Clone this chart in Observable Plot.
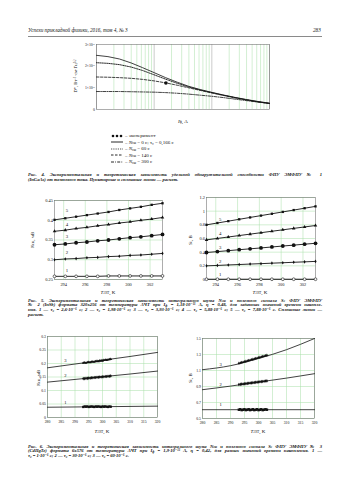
<!DOCTYPE html>
<html><head><meta charset="utf-8">
<script src="https://cdn.jsdelivr.net/npm/d3@7"></script>
<script src="https://cdn.jsdelivr.net/npm/@observablehq/plot@0.6"></script>
<style>
body{margin:0;background:#fff;}
#page{position:relative;width:350px;height:495px;overflow:hidden;background:#fff;font-family:"Liberation Serif","DejaVu Serif",serif;color:#111;}
.abs{position:absolute;white-space:nowrap;}
.cap{position:absolute;left:28px;width:294px;font-style:italic;font-weight:bold;font-size:4.6px;line-height:4.8px;}
.cap div{text-align:justify;text-align-last:justify;white-space:nowrap;height:4.8px;}
.cap div.last{text-align-last:left;}
sub{font-size:65%;vertical-align:baseline;position:relative;top:0.15em;line-height:0;}
sup{font-size:65%;vertical-align:baseline;position:relative;top:-0.35em;line-height:0;}
</style></head><body><div id="page"></div>
<script>
const page = document.getElementById("page");
const FONT = "Liberation Serif";

// ---------- Fig. 4 data ----------
const I_f   = [1e-13,1.58e-13,2.51e-13,3.98e-13,6.31e-13,1e-12,1.58e-12,2.51e-12,3.98e-12,6.31e-12,1e-11,1.58e-11,2.51e-11,3.98e-11,6.31e-11,1e-10];
const D_N0   = [2.50,2.44,2.33,2.15,1.93,1.70,1.47,1.26,1.07,0.92,0.79,0.67,0.56,0.46,0.37,0.29];
const D_N60  = [2.16,2.13,2.07,1.96,1.80,1.60,1.40,1.21,1.04,0.90,0.78,0.66,0.55,0.45,0.36,0.28];
const D_N140 = [1.50,1.49,1.47,1.44,1.39,1.32,1.23,1.12,1.00,0.88,0.76,0.65,0.54,0.44,0.35,0.28];
const D_N300 = [0.83,0.83,0.83,0.82,0.81,0.80,0.78,0.75,0.71,0.66,0.61,0.55,0.48,0.41,0.34,0.28];
const expI = [1.6e-12], expD = [1.22];
const xTicks1 = [1e-13,1e-12,1e-11,1e-10];
const xTickLabels1 = ["1×10⁻¹³","1×10⁻¹²","1×10⁻¹¹","1×10⁻¹⁰"];
const yTicks1 = [0,1,2,3];
const yTickLabels1 = ["0","1×10¹¹","2×10¹¹","3×10¹¹"];

// ---------- Fig. 5 data ----------
const T5 = [293.15,294.15,295.15,296.15,297.15,298.15,299.15,300.15,301.15,302.15,303.15];
const xTicks5 = [294,296,298,300,302];
const N1 = [0.258,0.258,0.258,0.258,0.258,0.259,0.259,0.259,0.259,0.259,0.259];
const N2 = [0.300,0.302,0.303,0.305,0.306,0.308,0.309,0.311,0.312,0.314,0.316];
const N3 = [0.338,0.340,0.343,0.345,0.348,0.350,0.353,0.356,0.358,0.361,0.364];
const N4 = [0.372,0.375,0.379,0.382,0.386,0.389,0.393,0.396,0.400,0.403,0.407];
const N5 = [0.401,0.405,0.409,0.413,0.417,0.421,0.426,0.430,0.434,0.439,0.443];
const yTicksN5 = [0.25,0.3,0.35,0.4,0.45];
const S1 = [0.004,0.004,0.004,0.004,0.004,0.004,0.004,0.004,0.004,0.004,0.004];
const S2 = [0.200,0.206,0.213,0.219,0.226,0.232,0.239,0.245,0.252,0.258,0.265];
const S3 = [0.395,0.408,0.422,0.436,0.449,0.462,0.476,0.490,0.503,0.517,0.530];
const S4 = [0.580,0.601,0.622,0.643,0.664,0.685,0.706,0.727,0.748,0.769,0.790];
const S5 = [0.800,0.827,0.854,0.881,0.908,0.935,0.962,0.989,1.016,1.043,1.070];
const yTicksS5 = [0,0.2,0.4,0.6,0.8,1,1.2];
const curveNames5 = ["1","2","3","4","5"];
const labN_x = [294.3,294.3,294.3,294.3,294.3];
const labN_y = [0.272,0.319,0.358,0.389,0.424];
const labS_x = [294.4,294.4,294.4,294.4,294.4];
const labS_y = [0.07,0.27,0.47,0.67,0.875];

// ---------- Fig. 6 data ----------
const T6line = [280,290,300,310,320];
const NL1 = [0.038,0.039,0.040,0.041,0.042];
const NL2 = [0.131,0.141,0.151,0.161,0.172];
const NL3 = [0.184,0.198,0.212,0.226,0.241];
const SL1 = [0.61,0.61,0.61,0.61,0.61];
const SL2 = [0.86,0.905,0.955,1.005,1.06];
const SL3 = [1.11,1.16,1.25,1.36,1.50];
const T6 = [293,293.5,294,294.5,295,295.5,296,296.5,297,297.5,298,298.5,299,299.5,300,300.5,301,301.5,302,302.5,303];
const NM1 = [0.039,0.041,0.040,0.041,0.039,0.040,0.041,0.040,0.039,0.041,0.040,0.041,0.040,0.039,0.041,0.040,0.041,0.040,0.039,0.041,0.040];
const NM2 = [0.144,0.144,0.145,0.145,0.146,0.146,0.147,0.147,0.148,0.148,0.149,0.149,0.150,0.150,0.151,0.151,0.152,0.152,0.153,0.153,0.154];
const NM3 = [0.202,0.203,0.202,0.204,0.205,0.204,0.206,0.207,0.206,0.208,0.209,0.208,0.210,0.211,0.210,0.212,0.213,0.212,0.214,0.215,0.216];
const SM1 = [0.61,0.615,0.605,0.61,0.615,0.605,0.61,0.615,0.605,0.61,0.615,0.605,0.61,0.615,0.605,0.61,0.615,0.605,0.61,0.615,0.61];
const SM2 = [0.925,0.927,0.930,0.932,0.934,0.936,0.939,0.941,0.943,0.945,0.948,0.950,0.952,0.954,0.957,0.959,0.961,0.963,0.966,0.968,0.970];
const SM3 = [1.190,1.195,1.200,1.205,1.210,1.215,1.220,1.225,1.230,1.235,1.240,1.245,1.250,1.255,1.260,1.265,1.270,1.275,1.280,1.285,1.290];
const xTicks6 = [280,285,290,295,300,305,310,315,320];
const yTicksN6 = [0,0.05,0.1,0.15,0.2,0.25,0.3];
const yTicksS6 = [0.5,0.7,0.9,1.1,1.3,1.5];
const curveNames6 = ["1","2","3"];
const lab6N_x = [286.5,286.5,286.5], lab6N_y = [0.055,0.155,0.21];
const lab6S_x = [286.5,286.5,286.5], lab6S_y = [0.67,0.93,1.18];

// ---------- helpers ----------
const GREEN = "#a6dea6";
function panel(fr, m, x, y, marks){
  const svg = Plot.plot({
    width: m.l + (fr.R-fr.L) + m.r,
    height: m.t + (fr.B-fr.T) + m.b,
    marginLeft:m.l, marginRight:m.r, marginTop:m.t, marginBottom:m.b,
    style:{fontFamily:FONT, fontSize:"4.4px", color:"#111", background:"transparent", overflow:"visible"},
    x, y, marks
  });
  svg.style.position="absolute"; svg.style.left=(fr.L-m.l)+"px"; svg.style.top=(fr.T-m.t)+"px";
  page.appendChild(svg);
}
function html(h, x, y, css){
  const d=document.createElement("div"); d.className="abs"; d.innerHTML=h;
  d.style.left=x+"px"; d.style.top=y+"px"; if(css) d.style.cssText+=css; page.appendChild(d); return d;
}
function vlabel(h, cx, cy, fs){
  return html(h, cx, cy, `transform:translate(-50%,-50%) rotate(-90deg);font-size:${fs||5}px;line-height:${(fs||5)*1.1}px;`);
}
function hlabel(h, cx, cy, fs){
  return html(h, cx, cy, `transform:translate(-50%,-50%);font-size:${fs||5}px;line-height:${(fs||5)*1.1}px;`);
}
const idx = a => ({length:a.length});

// ---------- header ----------
html("Успехи прикладной физики, 2016, том 4, № 3", 28, 27, "font-style:italic;font-size:5.2px;line-height:6px;");
html("283", 313, 27, "font-style:italic;font-size:5.2px;line-height:6px;");
html("", 28, 36, "width:294px;height:0;border-top:0.7px solid #8a8a8a;");

// ---------- Fig. 4 chart ----------
{
  const minor = [];
  for (const dec of [1e-13,1e-12,1e-11]) for (let k=2;k<=9;k++) minor.push(k*dec);
  panel({L:96,R:269,T:44,B:109},{l:40,r:8,t:6,b:12},
    {type:"log", domain:[1e-13,1e-10]},
    {domain:[0,3]},
    [
      Plot.ruleX(minor,{stroke:GREEN,strokeWidth:0.5}),
      Plot.ruleX(xTicks1,{stroke:"#aaa",strokeWidth:0.6}),
      Plot.frame({stroke:"#777",strokeWidth:0.6}),
      Plot.axisX({ticks:xTicks1, tickFormat:(d,i)=>xTickLabels1[i], tickSize:0, tickPadding:3.5, label:null, fontSize:3.8}),
      Plot.axisY({ticks:yTicks1, tickFormat:(d,i)=>yTickLabels1[i], tickSize:0, tickPadding:1.5, label:null, fontSize:3.8}),
      Plot.line(idx(I_f),{x:I_f,y:D_N300,stroke:"#111",strokeWidth:0.8,strokeDasharray:"3,1.2,0.8,1.2"}),
      Plot.line(idx(I_f),{x:I_f,y:D_N140,stroke:"#111",strokeWidth:0.8,strokeDasharray:"2.5,1.5"}),
      Plot.line(idx(I_f),{x:I_f,y:D_N60,stroke:"#111",strokeWidth:0.9,strokeDasharray:"0.8,1"}),
      Plot.line(idx(I_f),{x:I_f,y:D_N0,stroke:"#111",strokeWidth:0.8}),
      Plot.dot(idx(expI),{x:expI,y:expD,r:1.8,fill:"#111"})
    ]);
  vlabel("D*, Вт<sup>−1</sup>·см·Гц<sup>1/2</sup>", 76, 76, 4.6);
  hlabel("<i>I</i><sub>ф</sub>, A", 183, 122, 5);
  // legend
  const items = [
    {k:"dots", t:"– эксперимент"},
    {k:"", t:"– <i>N</i><sub>сш</sub> = 0 с; τ₀ = 0,166 с"},
    {k:"0.8,1", t:"– <i>N</i><sub>сш</sub> = 60 с"},
    {k:"2.5,1.5", t:"– <i>N</i><sub>сш</sub> = 140 с"},
    {k:"3,1.2,0.8,1.2", t:"– <i>N</i><sub>сш</sub> = 300 с"}
  ];
  items.forEach((it,i)=>{
    const y = 133 + i*6.6;
    let sw;
    if (it.k==="dots") sw = `<svg width="12" height="4" style="display:block"><circle cx="2" cy="2" r="1.3" fill="#111"/><circle cx="6" cy="2" r="1.3" fill="#111"/><circle cx="10" cy="2" r="1.3" fill="#111"/></svg>`;
    else sw = `<svg width="12" height="4" style="display:block"><line x1="0" x2="12" y1="2" y2="2" stroke="#111" stroke-width="0.9" ${it.k?`stroke-dasharray="${it.k}"`:""}/></svg>`;
    html(sw, 111, y + 0.6, "font-size:0;line-height:0;");
    html(it.t, 125, y, "font-size:5px;line-height:5.2px;");
  });
}

// Fig. 4 caption
html(`<div class="cap" style="top:173px"><div>Рис. 4. Экспериментальная и теоретическая зависимость удельной обнаружительной способности ФПУ ЭМФПУ № 1</div><div class="last">(InGaAs) от темнового тока. Пунктирные и сплошные линии — расчет.</div></div>`,0,0,"");

// ---------- Fig. 5 left (N) ----------
panel({L:54,R:162,T:200,B:279},{l:16,r:4,t:4,b:10},
  {domain:[293.15,303.15]},
  {domain:[0.25,0.45]},
  [
    Plot.ruleX(xTicks5,{stroke:GREEN,strokeWidth:0.5}),
    Plot.ruleY(yTicksN5,{stroke:GREEN,strokeWidth:0.5}),
    Plot.frame({stroke:"#777",strokeWidth:0.6}),
    Plot.axisX({ticks:xTicks5, tickFormat:d=>String(d), tickSize:0, tickPadding:3, label:null}),
    Plot.axisY({ticks:yTicksN5, tickFormat:d=>String(d), tickSize:0, tickPadding:1.5, label:null}),
    Plot.line(idx(T5),{x:T5,y:N1,stroke:"#111",strokeWidth:0.9}),
    Plot.line(idx(T5),{x:T5,y:N2,stroke:"#111",strokeWidth:0.9}),
    Plot.line(idx(T5),{x:T5,y:N3,stroke:"#111",strokeWidth:0.9}),
    Plot.line(idx(T5),{x:T5,y:N4,stroke:"#111",strokeWidth:0.9}),
    Plot.line(idx(T5),{x:T5,y:N5,stroke:"#111",strokeWidth:0.9}),
    Plot.dot(idx(T5),{x:T5,y:N1,r:1.4,stroke:"#111",strokeWidth:0.6,fill:"white"}),
    Plot.dot(idx(T5),{x:T5,y:N2,r:1.1,symbol:"diamond",fill:"#111"}),
    Plot.dot(idx(T5),{x:T5,y:N3,r:1.9,fill:"#111"}),
    Plot.dot(idx(T5),{x:T5,y:N4,r:1.3,symbol:"triangle",fill:"#111"}),
    Plot.dot(idx(T5),{x:T5,y:N5,r:1.3,symbol:"square",fill:"#111"}),
    Plot.text(curveNames5,{x:labN_x,y:labN_y,text:d=>d,fontSize:4.8})
  ]);
vlabel("<i>N</i><sub>сш</sub>, мВ", 33, 240, 5);
hlabel("<i>T</i><sub>АЧТ</sub>, K", 108, 293, 5);

// ---------- Fig. 5 right (S) ----------
panel({L:206,R:315,T:197,B:279},{l:16,r:4,t:4,b:10},
  {domain:[293.15,303.15]},
  {domain:[0,1.2]},
  [
    Plot.ruleX(xTicks5,{stroke:GREEN,strokeWidth:0.5}),
    Plot.ruleY(yTicksS5,{stroke:GREEN,strokeWidth:0.5}),
    Plot.frame({stroke:"#777",strokeWidth:0.6}),
    Plot.axisX({ticks:xTicks5, tickFormat:d=>String(d), tickSize:0, tickPadding:3, label:null}),
    Plot.axisY({ticks:yTicksS5, tickFormat:d=>String(d), tickSize:0, tickPadding:1.5, label:null}),
    Plot.line(idx(T5),{x:T5,y:S1,stroke:"#111",strokeWidth:0.9}),
    Plot.line(idx(T5),{x:T5,y:S2,stroke:"#111",strokeWidth:0.9}),
    Plot.line(idx(T5),{x:T5,y:S3,stroke:"#111",strokeWidth:0.9}),
    Plot.line(idx(T5),{x:T5,y:S4,stroke:"#111",strokeWidth:0.9}),
    Plot.line(idx(T5),{x:T5,y:S5,stroke:"#111",strokeWidth:0.9}),
    Plot.dot(idx(T5),{x:T5,y:S1,r:1.4,stroke:"#111",strokeWidth:0.6,fill:"white"}),
    Plot.dot(idx(T5),{x:T5,y:S2,r:1.1,symbol:"diamond",fill:"#111"}),
    Plot.dot(idx(T5),{x:T5,y:S3,r:1.9,fill:"#111"}),
    Plot.dot(idx(T5),{x:T5,y:S4,r:1.3,symbol:"triangle",fill:"#111"}),
    Plot.dot(idx(T5),{x:T5,y:S5,r:1.3,symbol:"square",fill:"#111"}),
    Plot.text(curveNames5,{x:labS_x,y:labS_y,text:d=>d,fontSize:4.8})
  ]);
vlabel("<i>S</i><sub>c</sub>, B", 191, 240, 5);
hlabel("<i>T</i><sub>АЧТ</sub>, K", 260, 293, 5);

// Fig. 5 caption
html(`<div class="cap" style="top:298.5px"><div>Рис. 5. Экспериментальная и теоретическая зависимость интегрального шума N<sub>сш</sub> и полезного сигнала S<sub>c</sub> ФПУ ЭМФПУ</div><div>№ 2 (InSb) формата 320x256 от температуры АЧТ при I<sub>ф</sub> = 1,18·10⁻¹¹ А, η = 0,48, для заданных значений времени накопле-</div><div>ния. 1 — τ₀ = 2,6·10⁻⁶ с; 2 — τ₀ = 1,98·10⁻⁶ с; 3 — τ₀ = 3,93·10⁻⁶ с; 4 — τ₀ = 5,88·10⁻⁶ с; 5 — τ₀ = 7,88·10⁻⁶ с. Сплошные линии —</div><div class="last">расчет.</div></div>`,0,0,"");

// ---------- Fig. 6 left (N) ----------
panel({L:47,R:157,T:336,B:417},{l:16,r:4,t:4,b:10},
  {domain:[280,320]},
  {domain:[0,0.3]},
  [
    Plot.ruleX(xTicks6,{stroke:GREEN,strokeWidth:0.5}),
    Plot.ruleY(yTicksN6,{stroke:GREEN,strokeWidth:0.5}),
    Plot.frame({stroke:"#777",strokeWidth:0.6}),
    Plot.axisX({ticks:xTicks6, tickFormat:d=>String(d), tickSize:0, tickPadding:3, label:null, fontSize:3.8}),
    Plot.axisY({ticks:yTicksN6, tickFormat:d=>String(d), tickSize:0, tickPadding:1.5, label:null, fontSize:3.8}),
    Plot.line(idx(T6line),{x:T6line,y:NL1,stroke:"#111",strokeWidth:0.8}),
    Plot.line(idx(T6line),{x:T6line,y:NL2,stroke:"#111",strokeWidth:0.8}),
    Plot.line(idx(T6line),{x:T6line,y:NL3,stroke:"#111",strokeWidth:0.8}),
    Plot.dot(idx(T6),{x:T6,y:NM1,r:1.3,symbol:"square",fill:"#111"}),
    Plot.dot(idx(T6),{x:T6,y:NM2,r:1.1,symbol:"diamond",fill:"#111"}),
    Plot.dot(idx(T6),{x:T6,y:NM3,r:1.1,symbol:"triangle",fill:"#111"}),
    Plot.text(curveNames6,{x:lab6N_x,y:lab6N_y,text:d=>d,fontSize:4.6})
  ]);
vlabel("<i>N</i><sub>сш</sub>, мВ", 39, 378, 5);
hlabel("<i>T</i><sub>АЧТ</sub>, K", 102, 432, 5);

// ---------- Fig. 6 right (S) ----------
panel({L:202,R:314,T:338,B:418},{l:16,r:4,t:4,b:10},
  {domain:[280,320]},
  {domain:[0.5,1.5]},
  [
    Plot.ruleX(xTicks6,{stroke:GREEN,strokeWidth:0.5}),
    Plot.ruleY(yTicksS6,{stroke:GREEN,strokeWidth:0.5}),
    Plot.frame({stroke:"#777",strokeWidth:0.6}),
    Plot.axisX({ticks:xTicks6, tickFormat:d=>String(d), tickSize:0, tickPadding:3, label:null, fontSize:3.8}),
    Plot.axisY({ticks:yTicksS6, tickFormat:d=>String(d), tickSize:0, tickPadding:1.5, label:null, fontSize:3.8}),
    Plot.line(idx(T6line),{x:T6line,y:SL1,stroke:"#111",strokeWidth:0.8}),
    Plot.line(idx(T6line),{x:T6line,y:SL2,stroke:"#111",strokeWidth:0.8,curve:"natural"}),
    Plot.line(idx(T6line),{x:T6line,y:SL3,stroke:"#111",strokeWidth:0.8,curve:"natural"}),
    Plot.dot(idx(T6),{x:T6,y:SM1,r:1.4,symbol:"square",fill:"#111"}),
    Plot.dot(idx(T6),{x:T6,y:SM2,r:1.1,symbol:"diamond",fill:"#111"}),
    Plot.dot(idx(T6),{x:T6,y:SM3,r:1.1,symbol:"triangle",fill:"#111"}),
    Plot.text(curveNames6,{x:lab6S_x,y:lab6S_y,text:d=>d,fontSize:4.6})
  ]);
vlabel("<i>S</i><sub>c</sub>, B", 191, 378, 5);
hlabel("<i>T</i><sub>АЧТ</sub>, K", 258, 432, 5);

// Fig. 6 caption
html(`<div class="cap" style="top:444.5px"><div>Рис. 6. Экспериментальная и теоретическая зависимость интегрального шума N<sub>сш</sub> и полезного сигнала S<sub>c</sub> ФПУ ЭМФПУ № 3</div><div>(CdHgTe) формата 6x576 от температуры АЧТ при I<sub>ф</sub> = 1,9·10⁻¹¹ А, η = 0,42, для разных значений времени накопления. 1 —</div><div class="last">τ₀ = 1·10⁻⁶ с; 2 — τ₀ = 30·10⁻⁶ с; 3 — τ₀ = 60·10⁻⁶ с.</div></div>`,0,0,"");
</script></body></html>
